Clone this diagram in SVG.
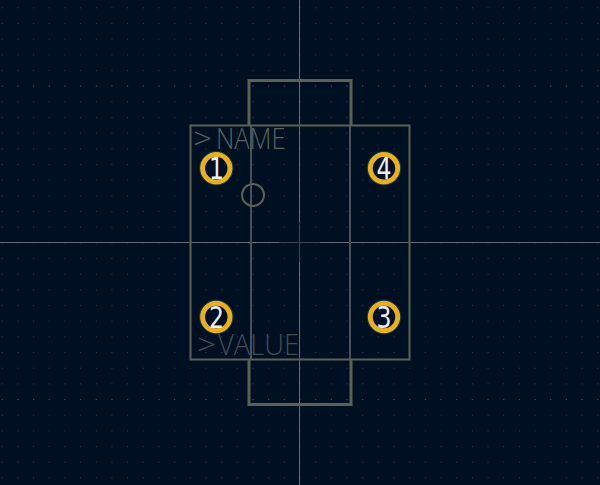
<svg xmlns="http://www.w3.org/2000/svg" width="600" height="485" viewBox="0 0 600 485">
<style>
.out{fill:none;stroke:#5a6258;stroke-width:2}
.thick{fill:none;stroke:#5a6258;stroke-width:3}
.fab{fill:none;stroke:#47525c;stroke-width:2}
.cr{stroke:#646d74;stroke-width:1}
.crd{stroke:#3c4650;stroke-width:1}
.pad{fill:#001023;stroke:#e6b022;stroke-width:5}
.halo{fill:none;stroke:#0c3a5a;stroke-width:1}
.num{font-family:"DejaVu Sans",sans-serif;font-size:30px;fill:#eeeef4;text-anchor:middle}
.ref{font-family:"Open Sans","Liberation Sans",sans-serif;font-weight:300;font-size:29px}
</style>
<defs>
<pattern id="g" width="15.67" height="15.67" patternUnits="userSpaceOnUse" x="1.77" y="7.300"><rect width="1" height="1" fill="#2b3e50"/></pattern>
<pattern id="m" width="15.67" height="156.700" patternUnits="userSpaceOnUse" x="1.77" y="85.500"><rect width="1" height="1" fill="#3c4c5e"/></pattern>
</defs>
<rect width="600" height="485" fill="#001023"/>
<rect id="grid" width="600" height="485" fill="url(#g)"/>
<rect id="major" width="600" height="485" fill="url(#m)"/>
<g id="crosshair"><line class="cr" x1="299.5" y1="0" x2="299.5" y2="485"/><line class="cr" x1="0" y1="242.500" x2="600" y2="242.500"/><line class="crd" x1="299.5" y1="222" x2="299.5" y2="263"/><line class="crd" x1="279" y1="242.500" x2="320" y2="242.500"/></g>
<g id="connectors">
<path class="fab" d="M251 125V360M350 125V360"/>
<path class="thick" d="M249 125V80.500H351V125M249 360V404.500H351V360"/>
<rect class="out" x="190.500" y="125.500" width="219" height="234"/>
<circle class="out" cx="253" cy="195" r="11"/>
</g>
<g id="name"><text class="ref" y="149" fill="#59625c"><tspan x="193" textLength="19" lengthAdjust="spacingAndGlyphs">&gt;</tspan><tspan x="216" textLength="69.500" lengthAdjust="spacingAndGlyphs">NAME</tspan></text></g>
<g id="value"><text class="ref" y="354.500" fill="#424d56"><tspan x="197" textLength="19" lengthAdjust="spacingAndGlyphs">&gt;</tspan><tspan x="218" textLength="81" lengthAdjust="spacingAndGlyphs">VALUE</tspan></text></g>
<g id="pad1"><circle class="halo" cx="216.300" cy="168.300" r="16.800"/><circle class="pad" cx="216.300" cy="168.300" r="13.700"/><text class="num" x="216.500" y="179" textLength="15" lengthAdjust="spacingAndGlyphs">1</text></g>
<g id="pad2"><circle class="halo" cx="216.300" cy="317" r="16.800"/><circle class="pad" cx="216.300" cy="317" r="13.700"/><text class="num" x="216.500" y="328" textLength="15" lengthAdjust="spacingAndGlyphs">2</text></g>
<g id="pad3"><circle class="halo" cx="384" cy="317" r="16.800"/><circle class="pad" cx="384" cy="317" r="13.700"/><text class="num" x="384" y="328" textLength="15" lengthAdjust="spacingAndGlyphs">3</text></g>
<g id="pad4"><circle class="halo" cx="384" cy="168.300" r="16.800"/><circle class="pad" cx="384" cy="168.300" r="13.700"/><text class="num" x="384" y="179" textLength="15" lengthAdjust="spacingAndGlyphs">4</text></g>
</svg>
